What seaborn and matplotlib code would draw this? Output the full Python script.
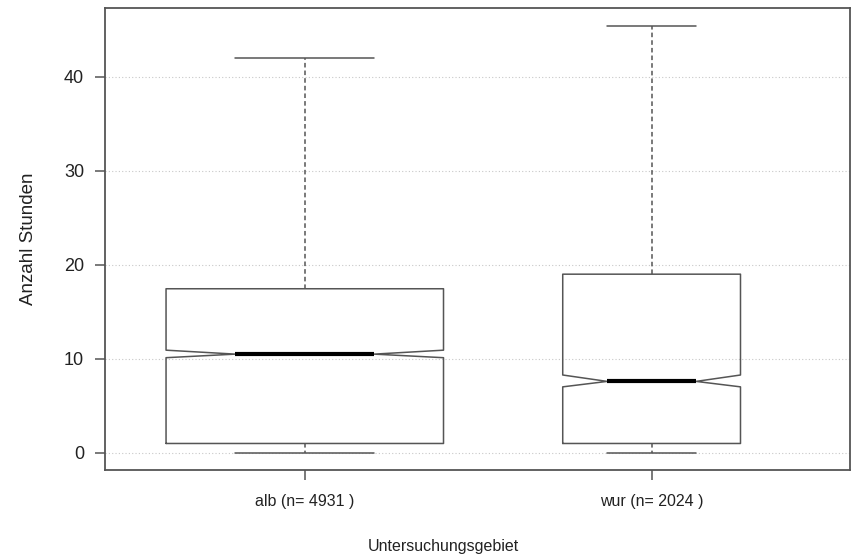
import matplotlib
matplotlib.use("Agg")
import matplotlib.pyplot as plt
import seaborn as sns
import numpy as np

# ---- data ----
groups = ["alb", "wur"]
counts = [4931, 2024]
whisker_low = [0.0, 0.0]
q1 = [1.0, 1.0]
median = [10.5, 7.6]
q3 = [17.45, 19.0]
whisker_high = [42.0, 45.4]
notch_low = [10.12, 7.02]
notch_high = [10.92, 8.28]
yticks = [0, 10, 20, 30, 40]

sns.set_theme(style="white")
plt.rcParams["font.family"] = ["Liberation Sans", "DejaVu Sans"]

fig = plt.figure(figsize=(8.51, 5.59), dpi=100)
ax = fig.add_axes([105 / 851, 89 / 559, 745 / 851, 462 / 559])

stats = []
for i, g in enumerate(groups):
    stats.append(dict(label=f"{g} (n= {counts[i]} )", whislo=whisker_low[i], q1=q1[i],
                      med=median[i], q3=q3[i], whishi=whisker_high[i],
                      cilo=notch_low[i], cihi=notch_high[i], fliers=[]))

# box widths proportional to sqrt(n)
sq = np.sqrt(np.array(counts, dtype=float))
widths = 0.8 * sq / sq.max()
positions = np.arange(1, len(groups) + 1)

box_col = "#555555"
ax.bxp(stats, positions=positions, widths=widths, shownotches=True, showfliers=False,
       boxprops=dict(color=box_col, linewidth=1.1),
       whiskerprops=dict(color=box_col, linewidth=1.1, linestyle=(0, (3, 2))),
       capprops=dict(color=box_col, linewidth=1.1),
       medianprops=dict(color="black", linewidth=3.0, solid_capstyle="butt"),
       manage_ticks=False, zorder=3)

ax.set_xlim(0.424, 2.572)
ax.set_ylim(-1.82, 47.3)
ax.set_yticks(yticks)
ax.set_xticks(positions)
ax.set_xticklabels([s["label"] for s in stats])

ax.yaxis.grid(True, color="#c8c8c8", linestyle=(0, (1, 2)), linewidth=0.8)
ax.xaxis.grid(False)
ax.set_axisbelow(True)

for sp in ax.spines.values():
    sp.set_color("#555555")
    sp.set_linewidth(1.3)
    sp.set_visible(True)

ax.tick_params(axis="both", which="major", direction="out", length=7, width=1.1,
               color="#555555", labelcolor="#222222", left=True, bottom=True)
ax.tick_params(axis="y", pad=8, labelsize=13)
ax.tick_params(axis="x", pad=10, labelsize=11.5)

ax.set_ylabel("Anzahl Stunden", fontsize=13.5, color="#222222")
ax.yaxis.set_label_coords(-(105 - 37) / 745, 0.5)
ax.set_xlabel("")
fig.text(443 / 851, 1 - 547 / 559, "Untersuchungsgebiet", ha="center", va="center",
         fontsize=11.5, color="#222222")

fig.savefig("out.png", dpi=100, facecolor="white")
